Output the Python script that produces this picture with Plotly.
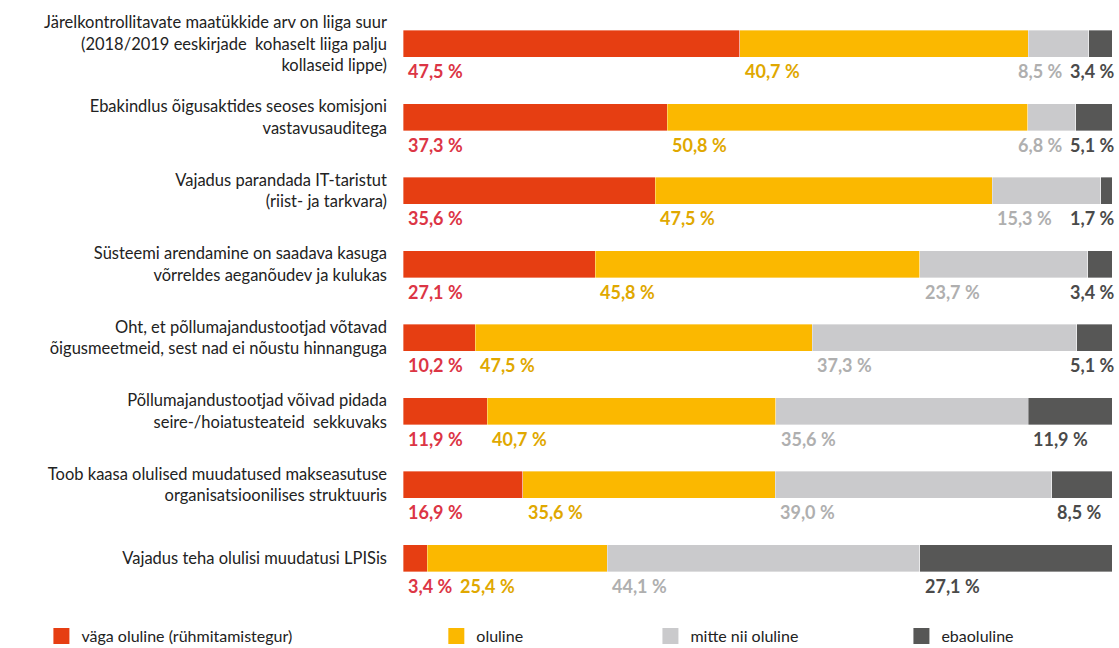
import plotly.graph_objects as go

categories = [
    "Järelkontrollitavate maatükkide arv on liiga suur<br>(2018/2019 eeskirjade  kohaselt liiga palju<br>kollaseid lippe)",
    "Ebakindlus õigusaktides seoses komisjoni<br>vastavusauditega",
    "Vajadus parandada IT-taristut<br>(riist- ja tarkvara)",
    "Süsteemi arendamine on saadava kasuga<br>võrreldes aeganõudev ja kulukas",
    "Oht, et põllumajandustootjad võtavad<br>õigusmeetmeid, sest nad ei nõustu hinnanguga",
    "Põllumajandustootjad võivad pidada<br>seire-/hoiatusteateid  sekkuvaks",
    "Toob kaasa olulised muudatused makseasutuse<br>organisatsioonilises struktuuris",
    "Vajadus teha olulisi muudatusi LPISis",
]
series_names = ["väga oluline (rühmitamistegur)", "oluline", "mitte nii oluline", "ebaoluline"]
vaga_oluline = [47.5, 37.3, 35.6, 27.1, 10.2, 11.9, 16.9, 3.4]
oluline = [40.7, 50.8, 47.5, 45.8, 47.5, 40.7, 35.6, 25.4]
mitte_nii_oluline = [8.5, 6.8, 15.3, 23.7, 37.3, 35.6, 39.0, 44.1]
ebaoluline = [3.4, 5.1, 1.7, 3.4, 5.1, 11.9, 8.5, 27.1]

series_values = [vaga_oluline, oluline, mitte_nii_oluline, ebaoluline]
bar_colors = ["#E63E12", "#FBB800", "#CACACC", "#575756"]
text_colors = ["#DC3545", "#E0A800", "#AFAFAF", "#4A4A4A"]

FONT = "Lato, sans-serif"
ypos = list(range(len(categories)))

fig = go.Figure()
for name, vals, col in zip(series_names, series_values, bar_colors):
    fig.add_trace(go.Bar(
        y=ypos, x=vals, orientation="h", name=name,
        marker=dict(color=col, line=dict(width=0.6, color="rgba(255,255,255,0.6)")),
        showlegend=False, hoverinfo="x+name",
    ))

# legend entries (separate legends so each can be placed like the original)
legend_ids = ["legend", "legend2", "legend3", "legend4"]
for name, col, lid in zip(series_names, bar_colors, legend_ids):
    fig.add_trace(go.Scatter(
        x=[None], y=[None], mode="markers", name=name, legend=lid,
        marker=dict(symbol="square", size=16, color=col),
    ))

# value labels placed below each segment, nudged to avoid overlap
PX_PER_UNIT = 709 / 100.0
OFFSET = 0.4
GAP = 8 / PX_PER_UNIT
RIGHT = 100.0


def fmt(v):
    return f"{v:.1f}".replace(".", ",") + " %"


def label_width(v):
    digits = sum(c.isdigit() for c in f"{v:.1f}")
    return (13 * digits + 18) / PX_PER_UNIT


for i in range(len(categories)):
    vals = [s[i] for s in series_values]
    starts = []
    acc = 0.0
    for v in vals:
        starts.append(acc)
        acc += v
    widths = [label_width(v) for v in vals]
    xs = []
    for j, st in enumerate(starts):
        x = st + OFFSET
        if j > 0:
            x = max(x, xs[j - 1] + widths[j - 1] + GAP)
        xs.append(x)
    if xs[-1] + widths[-1] > RIGHT:
        xs[-1] = RIGHT - widths[-1]
    for j in range(len(xs) - 2, -1, -1):
        xs[j] = min(xs[j], xs[j + 1] - GAP - widths[j])
    for j, v in enumerate(vals):
        fig.add_annotation(
            x=xs[j], y=i + 0.374, xref="x", yref="y", text=fmt(v),
            showarrow=False, xanchor="left", yanchor="middle",
            font=dict(family=FONT, size=18, color=text_colors[j], weight="bold"),
        )

legend_x = [-0.51, 0.047, 0.349, 0.703]
legend_common = dict(
    orientation="h", yanchor="middle", y=-0.07, xanchor="left",
    font=dict(family=FONT, size=16, color="#222222"), bgcolor="rgba(0,0,0,0)",
    itemclick=False, itemdoubleclick=False,
)
layout_legends = {}
for lid, lx in zip(legend_ids, legend_x):
    layout_legends[lid] = dict(legend_common, x=lx)

fig.update_layout(
    width=1119, height=648,
    margin=dict(l=403, r=7, t=7, b=53, autoexpand=False),
    barmode="stack", bargap=0.63,
    plot_bgcolor="white", paper_bgcolor="white",
    xaxis=dict(range=[0, 100], visible=False, fixedrange=True),
    yaxis=dict(
        range=[7.5, -0.5], tickvals=ypos, ticktext=categories,
        showgrid=False, zeroline=False, showline=False, ticks="",
        tickfont=dict(family=FONT, size=16.5, color="#222222"),
        ticklabelstandoff=15, fixedrange=True,
    ),
    **layout_legends,
)

fig.write_html("out.html")
